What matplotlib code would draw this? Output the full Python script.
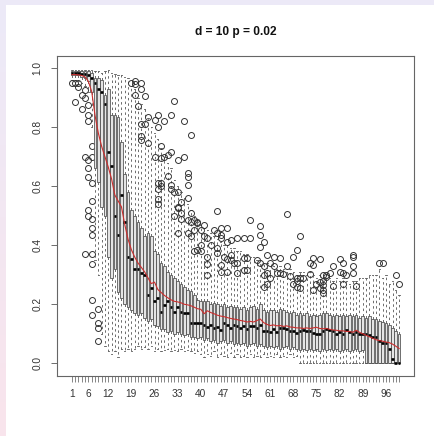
import matplotlib
matplotlib.use("Agg")
import matplotlib.pyplot as plt
import numpy as np
from matplotlib.patches import Rectangle

plt.rcParams['font.family'] = ['Liberation Sans', 'DejaVu Sans']

# ---------------- data ----------------
positions = list(range(1, 101))

med = [0.985, 0.985, 0.985, 0.98, 0.98, 0.975, 0.965, 0.95, 0.93, 0.92,
       0.88, 0.715, 0.67, 0.50, 0.435, 0.57, 0.48, 0.36, 0.355, 0.32,
       0.32, 0.305, 0.30, 0.23, 0.255, 0.21, 0.22, 0.175, 0.198, 0.21,
       0.19, 0.175, 0.19, 0.175, 0.17, 0.17, 0.136, 0.136, 0.136, 0.136,
       0.13, 0.124, 0.13, 0.12, 0.124, 0.113, 0.136, 0.13, 0.12, 0.13,
       0.125, 0.12, 0.125, 0.115, 0.125, 0.128, 0.12, 0.13, 0.11, 0.108,
       0.105, 0.115, 0.105, 0.118, 0.12, 0.115, 0.11, 0.108, 0.104, 0.11,
       0.112, 0.11, 0.108, 0.103, 0.10, 0.10, 0.11, 0.115, 0.112, 0.11,
       0.10, 0.105, 0.10, 0.112, 0.105, 0.10, 0.105, 0.10, 0.098, 0.10,
       0.095, 0.09, 0.088, 0.075, 0.07, 0.068, 0.05, 0.013, 0.0, 0.0]

q3 = [0.99, 0.99, 0.99, 0.99, 0.99, 0.99, 0.985, 0.965, 0.965, 0.96,
      0.91, 0.93, 0.84, 0.84, 0.835, 0.75, 0.64, 0.58, 0.52, 0.50,
      0.48, 0.46, 0.43, 0.44, 0.43, 0.38, 0.37, 0.34, 0.33, 0.31,
      0.30, 0.29, 0.28, 0.27, 0.26, 0.25, 0.245, 0.23, 0.215, 0.21,
      0.21, 0.21, 0.20, 0.205, 0.20, 0.195, 0.20, 0.19, 0.195, 0.19,
      0.19, 0.185, 0.19, 0.18, 0.19, 0.195, 0.185, 0.20, 0.18, 0.175,
      0.18, 0.18, 0.175, 0.185, 0.18, 0.175, 0.17, 0.175, 0.165, 0.17,
      0.165, 0.17, 0.16, 0.165, 0.16, 0.165, 0.17, 0.17, 0.165, 0.16,
      0.165, 0.16, 0.165, 0.16, 0.165, 0.16, 0.165, 0.155, 0.16, 0.155,
      0.16, 0.15, 0.15, 0.145, 0.14, 0.135, 0.13, 0.12, 0.11, 0.10]

q1 = [0.975, 0.975, 0.975, 0.97, 0.965, 0.955, 0.92, 0.66, 0.615, 0.53,
      0.50, 0.36, 0.29, 0.32, 0.24, 0.22, 0.20, 0.19, 0.18, 0.17,
      0.165, 0.17, 0.155, 0.145, 0.15, 0.13, 0.125, 0.115, 0.115, 0.105,
      0.11, 0.10, 0.105, 0.10, 0.095, 0.10, 0.09, 0.09, 0.085, 0.09,
      0.08, 0.085, 0.075, 0.08, 0.07, 0.075, 0.08, 0.07, 0.075, 0.065,
      0.07, 0.065, 0.07, 0.06, 0.065, 0.07, 0.06, 0.065, 0.06, 0.055,
      0.06, 0.055, 0.06, 0.05, 0.055, 0.06, 0.05, 0.055, 0.05, 0.045,
      0.05, 0.045, 0.05, 0.045, 0.05, 0.04, 0.05, 0.045, 0.05, 0.045,
      0.05, 0.04, 0.045, 0.05, 0.04, 0.045, 0.05, 0.04, 0.045, 0.0,
      0.0, 0.0, 0.0, 0.0, 0.0, 0.0, 0.0, 0.0, 0.0, 0.0]

whis_hi = [0.995, 0.995, 0.995, 0.995, 0.995, 0.995, 0.995, 0.99, 0.99, 0.985,
           0.99, 0.995, 0.985, 0.98, 0.975, 0.975, 0.97, 0.965, 0.94, 0.93,
           0.90, 0.88, 0.86, 0.83, 0.80, 0.78, 0.76, 0.73, 0.70, 0.68,
           0.66, 0.62, 0.60, 0.58, 0.56, 0.54, 0.52, 0.50, 0.48, 0.47,
           0.46, 0.45, 0.44, 0.43, 0.42, 0.41, 0.40, 0.40, 0.39, 0.39,
           0.38, 0.38, 0.37, 0.37, 0.36, 0.36, 0.35, 0.35, 0.34, 0.34,
           0.33, 0.33, 0.32, 0.33, 0.32, 0.31, 0.32, 0.31, 0.30, 0.31,
           0.31, 0.30, 0.31, 0.30, 0.29, 0.30, 0.28, 0.29, 0.29, 0.28,
           0.29, 0.28, 0.29, 0.28, 0.27, 0.28, 0.28, 0.29, 0.29, 0.29,
           0.30, 0.30, 0.30, 0.32, 0.29, 0.30, 0.27, 0.28, 0.25, 0.23]

whis_lo = [0.96, 0.96, 0.955, 0.95, 0.94, 0.92, 0.80, 0.35, 0.30, 0.10,
           0.06, 0.04, 0.03, 0.04, 0.02, 0.05, 0.04, 0.05, 0.04, 0.05,
           0.06, 0.05, 0.055, 0.05, 0.06, 0.04, 0.05, 0.04, 0.045, 0.05,
           0.04, 0.045, 0.04, 0.05, 0.04, 0.045, 0.04, 0.035, 0.04, 0.03,
           0.02, 0.03, 0.025, 0.04, 0.02, 0.03, 0.025, 0.02, 0.035, 0.02,
           0.03, 0.02, 0.025, 0.02, 0.03, 0.02, 0.025, 0.02, 0.03, 0.02,
           0.025, 0.02, 0.03, 0.02, 0.025, 0.02, 0.03, 0.02, 0.025, 0.0,
           0.0, 0.0, 0.0, 0.0, 0.0, 0.0, 0.0, 0.0, 0.0, 0.0,
           0.0, 0.0, 0.0, 0.0, 0.0, 0.0, 0.0, 0.0, 0.0, 0.0,
           0.0, 0.0, 0.0, 0.0, 0.0, 0.0, 0.0, 0.0, 0.0, 0.0]

mean_line = [0.978, 0.978, 0.977, 0.975, 0.97, 0.955, 0.92, 0.84, 0.78, 0.735,
             0.70, 0.665, 0.625, 0.57, 0.55, 0.53, 0.47, 0.42, 0.385, 0.36,
             0.34, 0.325, 0.31, 0.29, 0.27, 0.275, 0.25, 0.24, 0.23, 0.222,
             0.215, 0.21, 0.208, 0.205, 0.20, 0.198, 0.195, 0.19, 0.185, 0.183,
             0.168, 0.178, 0.172, 0.168, 0.163, 0.16, 0.158, 0.155, 0.152, 0.15,
             0.148, 0.145, 0.143, 0.14, 0.142, 0.14, 0.145, 0.15, 0.138, 0.132,
             0.128, 0.13, 0.127, 0.128, 0.125, 0.127, 0.123, 0.122, 0.12, 0.12,
             0.118, 0.12, 0.118, 0.12, 0.122, 0.118, 0.117, 0.118, 0.115, 0.113,
             0.112, 0.11, 0.11, 0.108, 0.108, 0.105, 0.112, 0.105, 0.10, 0.095,
             0.09, 0.085, 0.08, 0.077, 0.075, 0.072, 0.07, 0.065, 0.058, 0.05]

outlier_box = [1, 2, 3, 2, 3, 4, 4, 5, 5, 6, 6, 6, 5, 6, 6, 6, 6, 7, 7, 7,
               7, 6, 7, 7, 7, 5, 7, 7, 7, 7, 9, 9, 9, 9,
               20, 20, 19, 20, 21, 22, 22, 23, 22, 23, 22, 22, 24, 24, 26, 27,
               29, 31, 32, 27, 26, 28, 28, 29, 30, 31, 33, 35, 35, 37, 27, 28,
               28, 27, 30, 31, 31, 32, 33, 33, 33, 34, 27, 27, 32, 34, 34, 36,
               36, 36, 36, 37, 36, 37, 38, 39, 39, 41, 38, 40, 33, 36, 37, 38,
               39, 40, 41, 40, 42, 42, 42, 42, 43, 44, 45, 45, 45, 46, 46, 46,
               45, 46, 46, 47, 48, 48, 48, 48, 49, 49, 49, 50, 51, 51, 51, 53,
               53, 54, 53, 55, 55, 54, 57, 58, 58, 58, 59, 58, 59, 60, 59, 60,
               60, 59, 61, 62, 62, 61, 63, 64, 65, 64, 66, 66, 67, 68, 68, 69,
               69, 69, 69, 70, 70, 70, 71, 73, 73, 74, 74, 74, 75, 76, 76, 76,
               77, 77, 77, 77, 77, 78, 78, 79, 80, 80, 82, 83, 82, 83, 84, 83,
               86, 86, 86, 86, 87, 94, 95, 99, 100]
outlier_val = [0.95, 0.95, 0.95, 0.885, 0.935, 0.91, 0.86, 0.925, 0.90, 0.875,
               0.84, 0.82, 0.70, 0.69, 0.66, 0.63, 0.52, 0.735, 0.70, 0.61,
               0.55, 0.50, 0.49, 0.46, 0.435, 0.37, 0.37, 0.335, 0.215, 0.165,
               0.183, 0.135, 0.12, 0.077,
               0.955, 0.945, 0.95, 0.91, 0.87, 0.95, 0.93, 0.905, 0.81, 0.81,
               0.77, 0.755, 0.745, 0.835, 0.825, 0.84, 0.82, 0.84, 0.89, 0.80,
               0.70, 0.735, 0.695, 0.70, 0.705, 0.715, 0.69, 0.70, 0.82, 0.775,
               0.61, 0.61, 0.60, 0.59, 0.635, 0.605, 0.59, 0.58, 0.58, 0.53,
               0.525, 0.545, 0.555, 0.54, 0.50, 0.49, 0.51, 0.645, 0.63, 0.605,
               0.56, 0.51, 0.485, 0.48, 0.485, 0.48, 0.475, 0.47, 0.45, 0.45,
               0.44, 0.44, 0.43, 0.38, 0.385, 0.38, 0.43, 0.40, 0.425, 0.36,
               0.335, 0.30, 0.40, 0.45, 0.515, 0.44, 0.39, 0.435, 0.46, 0.424,
               0.373, 0.333, 0.31, 0.36, 0.458, 0.41, 0.355, 0.31, 0.367, 0.418,
               0.35, 0.34, 0.424, 0.34, 0.305, 0.424, 0.358, 0.358, 0.316, 0.424,
               0.486, 0.316, 0.35, 0.466, 0.435, 0.395, 0.41, 0.34, 0.33, 0.367,
               0.30, 0.305, 0.27, 0.26, 0.34, 0.33, 0.36, 0.29, 0.305, 0.305,
               0.303, 0.356, 0.506, 0.33, 0.297, 0.27, 0.36, 0.384, 0.28, 0.29,
               0.26, 0.43, 0.29, 0.254, 0.29, 0.34, 0.303, 0.356, 0.333, 0.25,
               0.27, 0.353, 0.277, 0.256, 0.30, 0.28, 0.237, 0.248, 0.265, 0.30,
               0.294, 0.307, 0.328, 0.262, 0.352, 0.339, 0.31, 0.305, 0.30, 0.27,
               0.367, 0.36, 0.328, 0.307, 0.262, 0.34, 0.34, 0.30, 0.268]

xtick_labels = [1, 6, 12, 19, 26, 33, 40, 47, 54, 61, 68, 75, 82, 89, 96]
ytick_vals = [0.0, 0.2, 0.4, 0.6, 0.8, 1.0]
title = "d = 10 p = 0.02"

# ---------------- figure ----------------
W, H = 434, 436
fig = plt.figure(figsize=(W / 100, H / 100), dpi=100)

# background: lavender/pink gradient margin with white page
bg = fig.add_axes([0, 0, 1, 1], zorder=-10)
bg.axis('off')
top_c = np.array([0xEC, 0xEA, 0xF8]) / 255
bot_c = np.array([0xF9, 0xE4, 0xEC]) / 255
t = np.linspace(0, 1, 256)[:, None]
grad = (top_c[None, :] * (1 - t) + bot_c[None, :] * t)[:, None, :]
bg.imshow(grad, extent=[0, 1, 0, 1], aspect='auto', origin='upper')
bg.add_patch(Rectangle((6 / W, 0), 1 - 6 / W, (H - 5) / H, transform=bg.transAxes,
                       facecolor='white', edgecolor='none'))
bg.set_xlim(0, 1)
bg.set_ylim(0, 1)

ax = fig.add_axes([57 / W, 1 - 376 / H, (414 - 57) / W, (376 - 56) / H])
ax.set_facecolor('white')

fl_map = {}
for b, v in zip(outlier_box, outlier_val):
    fl_map.setdefault(b, []).append(v)

stats = []
for i, p in enumerate(positions):
    stats.append(dict(med=med[i], q1=q1[i], q3=q3[i],
                      whislo=whis_lo[i], whishi=whis_hi[i],
                      fliers=np.array(fl_map.get(p, []))))

ax.bxp(stats, positions=positions, widths=0.8, capwidths=0.4,
       patch_artist=True, manage_ticks=False, showfliers=True,
       boxprops=dict(facecolor='#e4e4e4', edgecolor='#4a4a4a', linewidth=0.55),
       medianprops=dict(color='black', linewidth=1.9, solid_capstyle='butt'),
       whiskerprops=dict(color='#555555', linewidth=0.6, linestyle=(0, (3, 3.5))),
       capprops=dict(color='#555555', linewidth=0.6),
       flierprops=dict(marker='o', markerfacecolor='none', markeredgecolor='#333333',
                       markersize=4.3, markeredgewidth=0.7, linestyle='none'))

ax.plot(positions, mean_line, color='#cc2e2e', linewidth=0.8, zorder=5)

ax.set_xlim(-3.5, 104.5)
ax.set_ylim(-0.043, 1.041)

ax.set_xticks(positions)
ax.set_xticklabels([str(p) if p in xtick_labels else '' for p in positions])
ax.set_yticks(ytick_vals)
ax.set_yticklabels([f"{v:.1f}" for v in ytick_vals])

ax.tick_params(axis='x', length=4.0, width=0.5, color='#555555',
               labelsize=7.3, labelcolor='#333333', pad=5.5)
ax.tick_params(axis='y', length=4.5, width=0.6, color='#555555',
               labelsize=7.3, labelcolor='#333333', pad=6, labelrotation=90)
for lab in ax.get_yticklabels():
    lab.set_va('center')
    lab.set_ha('right')

for s in ax.spines.values():
    s.set_color('#666666')
    s.set_linewidth(0.8)

ax.set_title(title, fontsize=8.6, fontweight='bold', pad=15, color='#111111')

fig.savefig('out.png', dpi=100)
